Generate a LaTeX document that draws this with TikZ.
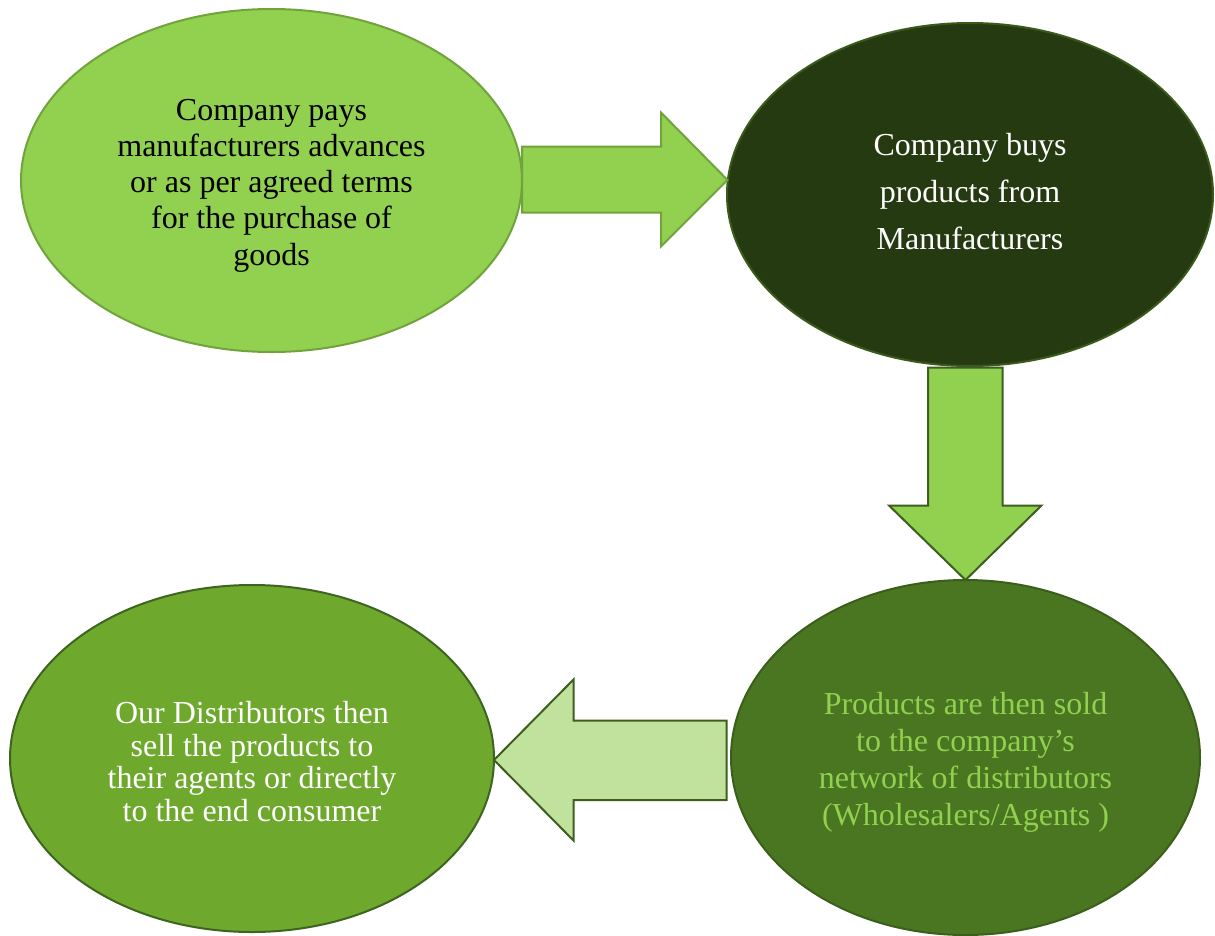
\documentclass[tikz,border=0pt]{standalone}
\usepackage{fontspec}
\setmainfont{Liberation Serif}
\usetikzlibrary{shapes.geometric}
\definecolor{cAfill}{HTML}{92D050}
\definecolor{cAdraw}{HTML}{71A33C}
\definecolor{cBfill}{HTML}{263A11}
\definecolor{cBdraw}{HTML}{3A5A1C}
\definecolor{cCfill}{HTML}{4A7521}
\definecolor{cCdraw}{HTML}{3B5F1A}
\definecolor{cDfill}{HTML}{6EA92E}
\definecolor{cDdraw}{HTML}{3E6420}
\definecolor{arrDark}{HTML}{3E5E20}
\definecolor{arrLight}{HTML}{C0E29C}
\tikzset{
  oval/.style={ellipse, inner sep=0pt, line width=2pt},
  ovaltext/.style={inner sep=0pt, align=center},
  blockarrow/.style={line width=2pt, line join=miter},
}
\begin{document}
\begin{tikzpicture}[x=1pt,y=-1pt]
\useasboundingbox (0,0) rectangle (1215,935);
% ellipses
\node[oval, fill=cAfill, draw=cAdraw, minimum width=501pt, minimum height=343pt] (e1) at (271.5,180.5) {};
\node[ovaltext, font=\fontsize{32}{36.3}\selectfont, text=black] (t1) at ([yshift=-5pt]e1.center)
  {Company pays\\manufacturers advances\\or as per agreed terms\\for the purchase of\\goods};
\node[oval, fill=cBfill, draw=cBdraw, minimum width=486pt, minimum height=343pt] (e2) at (970,194.5) {};
\node[ovaltext, font=\fontsize{32}{47}\selectfont, text=white] (t2) at ([yshift=3pt]e2.center)
  {Company buys\\products from\\Manufacturers};
\node[oval, fill=cCfill, draw=cCdraw, minimum width=469pt, minimum height=355pt] (e3) at (965.5,757.5) {};
\node[ovaltext, font=\fontsize{32}{37}\selectfont, text=cAfill] (t3) at ([yshift=-5pt]e3.center)
  {Products are then sold\\to the company’s\\network of distributors\\(Wholesalers/Agents )};
\node[oval, fill=cDfill, draw=cDdraw, minimum width=484pt, minimum height=347pt] (e4) at (252,758.5) {};
\node[ovaltext, font=\fontsize{32}{32.7}\selectfont, text=white] (t4) at ([yshift=-3pt]e4.center)
  {Our Distributors then\\sell the products to\\their agents or directly\\to the end consumer};
% block arrows
\draw[blockarrow, fill=cAfill, draw=cAdraw]
  (522,146.5) -- (661,146.5) -- (661,112.5) -- (727.5,180) -- (661,246.5)
  -- (661,212.5) -- (522,212.5) -- cycle;
\draw[blockarrow, fill=cAfill, draw=arrDark]
  (928,367.5) -- (1002.5,367.5) -- (1002.5,505.5) -- (1041.5,505.5) -- (965.5,580)
  -- (889,505.5) -- (928,505.5) -- cycle;
\draw[blockarrow, fill=arrLight, draw=arrDark]
  (726.5,720.5) -- (573.5,720.5) -- (573.5,679.5) -- (494,760) -- (573.5,840.5)
  -- (573.5,800) -- (726.5,800) -- cycle;
\end{tikzpicture}
\end{document}
